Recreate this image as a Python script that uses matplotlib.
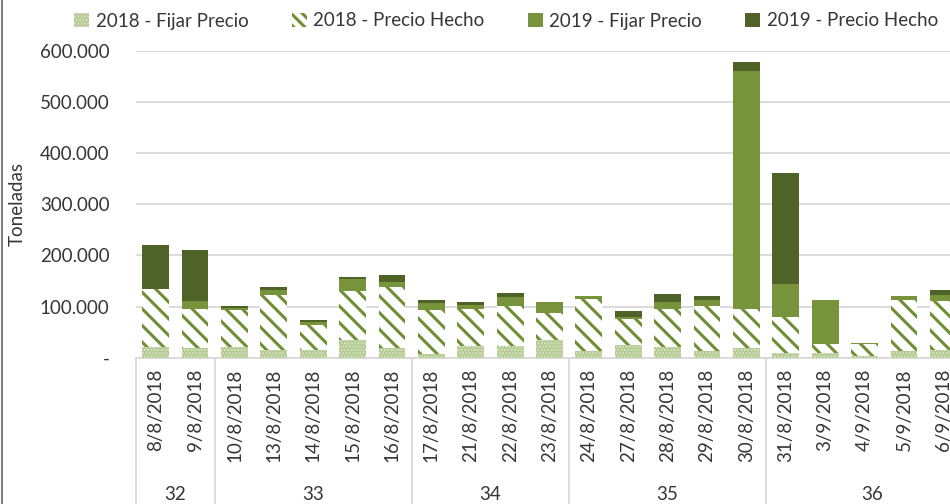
import matplotlib
matplotlib.use("Agg")
import matplotlib.pyplot as plt
import numpy as np
from matplotlib.lines import Line2D
from matplotlib.patches import Patch

plt.rcParams['font.family'] = ['Lato', 'DejaVu Sans']
plt.rcParams['hatch.linewidth'] = 2.2

dates = ['8/8/2018', '9/8/2018', '10/8/2018', '13/8/2018', '14/8/2018', '15/8/2018',
         '16/8/2018', '17/8/2018', '21/8/2018', '22/8/2018', '23/8/2018', '24/8/2018',
         '27/8/2018', '28/8/2018', '29/8/2018', '30/8/2018', '31/8/2018', '3/9/2018',
         '4/9/2018', '5/9/2018', '6/9/2018']
weeks = ['32', '33', '34', '35', '36']
week_sizes = [2, 5, 4, 5, 5]

# values in thousands of tonnes
fijar_2018 = [21, 18, 21, 15, 15, 34, 18, 8, 22, 22, 34, 14, 24, 21, 14, 18, 9, 10, 3, 14, 15]
hecho_2018 = [114, 78, 72, 107, 49, 96, 120, 85, 74, 79, 54, 100, 52, 75, 87, 78, 71, 17, 24, 99, 95]
fijar_2019 = [0, 15, 4, 10, 5, 23, 10, 14, 8, 18, 20, 7, 4, 12, 11, 465, 65, 85, 2, 7, 13]
hecho_2019 = [85, 99, 4, 6, 4, 5, 14, 5, 4, 8, 0, 0, 12, 16, 8, 17, 217, 0, 0, 0, 10]

yticks = [0, 100, 200, 300, 400, 500, 600]

txt = '#363636'
grid = '#d9d9d9'
c_f18_face = '#dae6c8'
c_f18_edge = '#b0c78c'
c_h18 = '#6f8f34'
c_f19 = '#77933c'
c_h19 = '#4f6228'

W, H = 950, 504
fig = plt.figure(figsize=(W / 100, H / 100), dpi=100)
ax = fig.add_axes([136 / W, (H - 357.7) / H, (W - 136) / W, (357.7 - 51) / H])

x = np.arange(len(dates))
bw = 0.68
f18 = np.array(fijar_2018, float)
h18 = np.array(hecho_2018, float)
f19 = np.array(fijar_2019, float)
h19 = np.array(hecho_2019, float)

ax.bar(x, f18, bw, facecolor=c_f18_face, edgecolor=c_f18_edge, hatch='.....', linewidth=0, zorder=3)
ax.bar(x, h18, bw, bottom=f18, facecolor='white', edgecolor=c_h18, hatch='\\\\', linewidth=0, zorder=3)
ax.bar(x, f19, bw, bottom=f18 + h18, color=c_f19, linewidth=0, zorder=3)
ax.bar(x, h19, bw, bottom=f18 + h18 + f19, color=c_h19, linewidth=0, zorder=3)

ax.set_ylim(0, 600)
ax.set_xlim(-0.5, 20.5 - 13 / 39.4)
ax.set_yticks(yticks)
ax.set_yticklabels(['-' if v == 0 else f'{v}.000' for v in yticks])
ax.yaxis.grid(True, color=grid, linewidth=1.3, zorder=0)
ax.set_axisbelow(True)
for s in ['top', 'right', 'left']:
    ax.spines[s].set_visible(False)
ax.spines['bottom'].set_color(grid)
ax.spines['bottom'].set_linewidth(1.3)
ax.tick_params(axis='y', length=0, pad=19, labelsize=13.5, labelcolor=txt)
ax.set_xticks(x)
ax.set_xticklabels(dates, rotation=90, ha='center', va='top')
ax.tick_params(axis='x', length=0, pad=8, labelsize=13.5, labelcolor=txt)

ax.set_ylabel('Toneladas', fontsize=13.5, color=txt)
ax.yaxis.set_label_coords((26 - 136) / (W - 136), 0.5)

# week groups
tr = ax.get_xaxis_transform()
edges = np.concatenate([[0], np.cumsum(week_sizes)]) - 0.5
for e in edges[:-1]:
    ax.plot([e, e], [0, -0.6], transform=tr, color=grid, linewidth=1.3, clip_on=False)
for i, wk in enumerate(weeks):
    centre = (edges[i] + edges[i + 1]) / 2
    if i == len(weeks) - 1:
        centre = edges[i] + 2.7
    ax.text(centre, -0.445, wk, transform=tr, ha='center', va='center',
            fontsize=13.5, color=txt)

# left border of chart area
fig.add_artist(Line2D([2 / W, 2 / W], [0, 1], color='#7f7f7f', linewidth=1.5))

handles = [
    Patch(facecolor=c_f18_face, edgecolor=c_f18_edge, hatch='.....', linewidth=0),
    Patch(facecolor='white', edgecolor=c_h18, hatch='\\\\\\', linewidth=0),
    Patch(facecolor=c_f19, linewidth=0),
    Patch(facecolor=c_h19, linewidth=0),
]
labels = ['2018 - Fijar Precio', '2018 - Precio Hecho', '2019 - Fijar Precio', '2019 - Precio Hecho']
fig.legend(handles, labels, loc='center', bbox_to_anchor=(506 / W, (H - 21) / H), ncol=4,
           frameon=False, fontsize=13.5, labelcolor=txt, handlelength=0.8, handleheight=0.8,
           handletextpad=0.35, columnspacing=2.3)

fig.savefig('out.png', dpi=100)
